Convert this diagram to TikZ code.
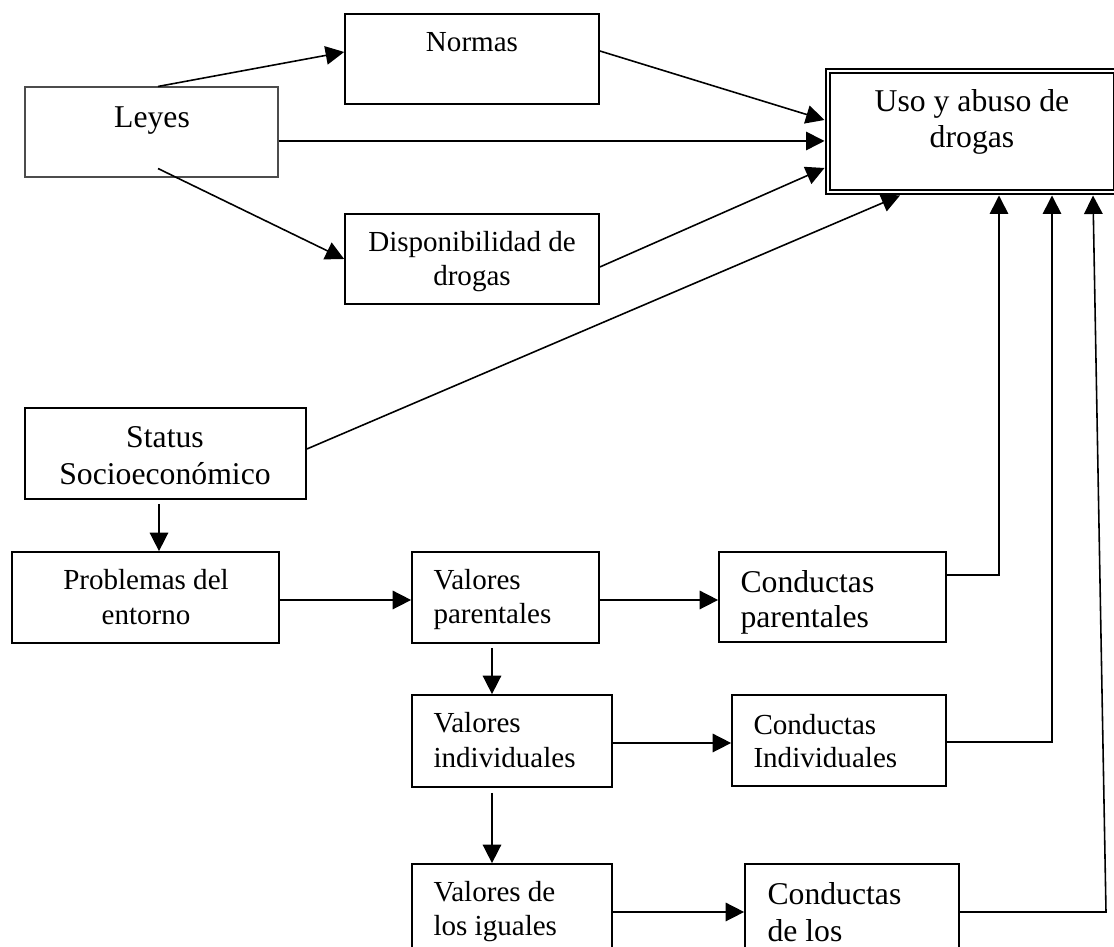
\documentclass[tikz,border=0pt]{standalone}
\usepackage{fontspec}
\setmainfont{Liberation Serif}
\usetikzlibrary{arrows.meta,calc}
% one drawing unit = 0.3785pt
\def\pxu{0.3785pt}
\newcommand{\stack}[2]{\begin{tabular}[t]{@{}#1@{}}#2\end{tabular}}

\begin{document}
\begin{tikzpicture}[x=0.3785pt,y=-0.3785pt,
  box/.style={draw=black, line width=0.65pt, inner sep=0pt, fill=none},
  lightbox/.style={draw=black!70, line width=0.4pt, inner sep=0pt},
  mainbox/.style={draw=black, line width=0.75pt, double=white, double distance=1.1pt,
    inner sep=0pt, outer sep=3.5*\pxu},
  tbig/.style={inner sep=0pt, font=\fontsize{12}{13.6}\selectfont},
  tsmall/.style={inner sep=0pt, font=\fontsize{11}{12.6}\selectfont},
  arr/.style={line width=0.6pt, -{Triangle[length=7pt,width=7pt]}},
  link/.style={line width=0.6pt}
]
\useasboundingbox (0,0) rectangle (1114,947);

% ---------- boxes ----------
\node[lightbox, minimum width=253*\pxu, minimum height=90*\pxu] (leyes) at (151.5,132) {};
\node[box, minimum width=254*\pxu, minimum height=90*\pxu] (normas) at (472,59) {};
\node[box, minimum width=254*\pxu, minimum height=90*\pxu] (disp) at (472,259) {};
\node[mainbox, minimum width=288*\pxu, minimum height=121*\pxu] (uso) at (972,131.5) {};
\node[box, minimum width=281*\pxu, minimum height=91*\pxu] (status) at (165.5,453.5) {};
\node[box, minimum width=267*\pxu, minimum height=91*\pxu] (prob) at (145.5,597.5) {};
\node[box, minimum width=187*\pxu, minimum height=91*\pxu] (vp) at (505.5,597.5) {};
\node[box, minimum width=227*\pxu, minimum height=90*\pxu] (cp) at (832.5,597) {};
\node[box, minimum width=200*\pxu, minimum height=92*\pxu] (vi) at (512,741) {};
\node[box, minimum width=214*\pxu, minimum height=91*\pxu] (ci) at (839,740.5) {};
\node[box, minimum width=200*\pxu, minimum height=96*\pxu] (vig) at (512,912) {};
\node[box, minimum width=214*\pxu, minimum height=96*\pxu] (cl) at (852,912) {};

% ---------- texts ----------
\node[tbig, anchor=base] (leyes-t) at (152,128) {Leyes};
\node[tsmall, anchor=base] (normas-t) at (472,52) {Normas};
\node[tsmall, anchor=base, font=\fontsize{11}{12.5}\selectfont] (disp-t) at (472,252)
  {\stack{c}{Disponibilidad de\\drogas}};
\node[tbig, anchor=base] (uso-t) at (972,112) {\stack{c}{Uso y abuso de\\drogas}};
\node[tbig, anchor=base, font=\fontsize{12}{14}\selectfont] (status-t) at (165,448)
  {\stack{c}{Status\\Socioeconómico}};
\node[tsmall, anchor=base, font=\fontsize{11}{12.9}\selectfont] (prob-t) at (146,590)
  {\stack{c}{Problemas del\\entorno}};
\node[tsmall, anchor=base west, font=\fontsize{11}{12.5}\selectfont] (vp-t) at (433,590)
  {\stack{l}{Valores\\parentales}};
\node[tbig, anchor=base west, font=\fontsize{12}{12.9}\selectfont] (cp-t) at (740,593)
  {\stack{l}{Conductas\\parentales}};
\node[tsmall, anchor=base west, font=\fontsize{11}{12.9}\selectfont] (vi-t) at (433,733)
  {\stack{l}{Valores\\individuales}};
\node[tsmall, anchor=base west, font=\fontsize{11}{12.2}\selectfont] (ci-t) at (753,735)
  {\stack{l}{Conductas\\Individuales}};
\node[tsmall, anchor=base west, font=\fontsize{11}{12.5}\selectfont] (vig-t) at (433,902)
  {\stack{l}{Valores de\\los iguales}};
\node[tbig, anchor=base west, font=\fontsize{12}{14}\selectfont] (cl-t) at (767,905)
  {\stack{l}{Conductas\\de los}};

% ---------- connectors ----------
\draw[arr] ([xshift=6.5*\pxu]leyes.north) -- ([yshift=7*\pxu]normas.west);
\draw[arr] ([yshift=-9*\pxu]leyes.east) coordinate (l1) -- (l1 -| uso.west);
\draw[arr] ([xshift=6.5*\pxu,yshift=9*\pxu]leyes.south) -- (disp.west);
\draw[arr] ([yshift=8*\pxu]normas.east) -- ([yshift=11.5*\pxu]uso.west);
\draw[arr] ([yshift=-8*\pxu]disp.east) -- ([yshift=-36.5*\pxu]uso.west);
\draw[arr] ([yshift=4.5*\pxu]status.east) -- ([xshift=-72*\pxu]uso.south);

\draw[arr] ([xshift=-6.5*\pxu,yshift=-4*\pxu]status.south) coordinate (s1) -- (s1 |- prob.north);
\draw[arr] ([yshift=-2.5*\pxu]prob.east) coordinate (p1) -- (p1 -| vp.west);
\draw[arr] ([yshift=-2.5*\pxu]vp.east) coordinate (v1) -- (v1 -| cp.west);
\draw[arr] ([xshift=-13.5*\pxu,yshift=-4*\pxu]vp.south) coordinate (v2) -- (v2 |- vi.north);
\draw[arr] ([yshift=-2*\pxu]vi.east) coordinate (v3) -- (v3 -| ci.west);
\draw[arr] ([xshift=-20*\pxu,yshift=-5*\pxu]vi.south) coordinate (v4) -- (v4 |- vig.north);
\draw[arr] (vig.east) -- (vig.east -| cl.west);

\draw[arr] ([yshift=22*\pxu]cp.east) -| ([xshift=27*\pxu]uso.south);
\draw[arr] ([yshift=-1.5*\pxu]ci.east) -| ([xshift=80*\pxu]uso.south);
\coordinate (clturn) at (1106,912);
\draw[arr] (cl.east) -- (clturn) -- ([xshift=121*\pxu]uso.south);
\end{tikzpicture}
\end{document}
